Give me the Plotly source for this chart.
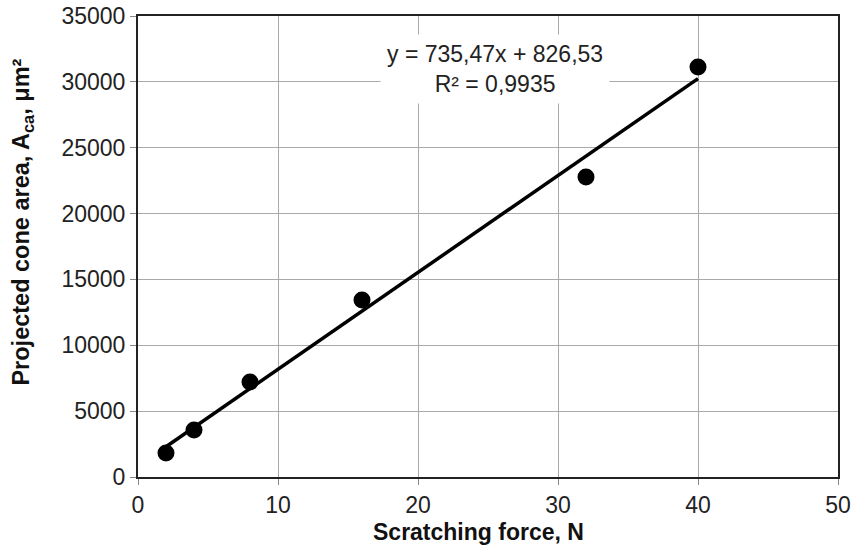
import plotly.graph_objects as go

force = [2, 4, 8, 16, 32, 40]
area = [1820, 3570, 7210, 13440, 22780, 31130]
slope = 735.47
intercept = 826.53
fit_x = [2, 40]
fit_y = [slope * x + intercept for x in fit_x]

x_ticks = [0, 10, 20, 30, 40, 50]
y_ticks = [0, 5000, 10000, 15000, 20000, 25000, 30000, 35000]

FONT = "Liberation Sans, Arial"

fig = go.Figure()
fig.add_trace(go.Scatter(x=fit_x, y=fit_y, mode="lines",
                         line=dict(color="black", width=3.5), showlegend=False))
fig.add_trace(go.Scatter(x=force, y=area, mode="markers",
                         marker=dict(color="black", size=17), showlegend=False))

fig.add_annotation(x=0.51, y=0.885, xref="paper", yref="paper",
                   xanchor="center", yanchor="middle",
                   text="y = 735,47x + 826,53<br>R² = 0,9935",
                   showarrow=False, bgcolor="white", borderpad=6,
                   font=dict(family=FONT, size=23, color="#222"))

# axis titles
fig.add_annotation(x=0.486, y=-0.119, xref="paper", yref="paper",
                   xanchor="center", yanchor="middle", showarrow=False,
                   text="<b>Scratching force, N</b>",
                   font=dict(family=FONT, size=23, color="#111"))
fig.add_annotation(x=-0.165, y=0.553, xref="paper", yref="paper",
                   xanchor="center", yanchor="middle", showarrow=False, textangle=-90,
                   text="<b>Projected cone area, A<sub>ca</sub>, μm²</b>",
                   font=dict(family=FONT, size=23.5, color="#111"))

axis_common = dict(showline=True, linecolor="#222", linewidth=2, mirror=True,
                   showgrid=True, gridcolor="#aaa", gridwidth=1,
                   ticks="outside", ticklen=6, tickcolor="#888",
                   tickfont=dict(family=FONT, size=23, color="#222"),
                   zeroline=False, automargin=False)

fig.update_xaxes(range=[0, 50], tickvals=x_ticks, ticktext=[str(v) for v in x_ticks],
                 **axis_common)
fig.update_yaxes(range=[0, 35000], tickvals=y_ticks, ticktext=[str(v) for v in y_ticks],
                 **axis_common)

fig.update_layout(width=856, height=547, plot_bgcolor="white", paper_bgcolor="white",
                  margin=dict(l=138, r=18, t=16, b=70, autoexpand=False))

fig.write_html("out.html")
